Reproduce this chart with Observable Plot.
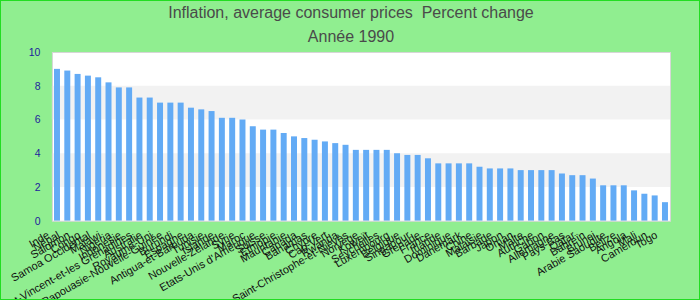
<!DOCTYPE html>
<html>
<head>
<meta charset="utf-8">
<script src="https://cdn.jsdelivr.net/npm/d3@7"></script>
<script src="https://cdn.jsdelivr.net/npm/@observablehq/plot@0.6"></script>
<style>
  html, body { margin: 0; padding: 0; }
  #chart {
    width: 700px; height: 300px; box-sizing: border-box;
    background: #90ee90; border: 1px solid #22dd22; overflow: hidden;
    font-family: "Liberation Sans", Arial, sans-serif; position: relative;
  }
  .title { position: absolute; left: 0; width: 700px; text-align: center; color: #4a4a4a; font-size: 16px; line-height: 16px; }
  #t1 { top: 4px; }
  #t2 { top: 28px; }
  #plot { position: absolute; left: -1px; top: 45px; }
</style>
</head>
<body>
<div id="chart">
  <div class="title" id="t1">Inflation, average consumer prices&nbsp; Percent change</div>
  <div class="title" id="t2">Année 1990</div>
  <div id="plot"></div>
</div>
<script>
const countries = [
  "Inde","Népal","Salomon","Congo","Samoa Occidental","Malawi","Nigeria","Indonésie",
  "Saint-Vincent-et-les Grenadines","Australie","Royaume-Uni","Papouasie-Nouvelle-Guinée",
  "Burundi","Espagne","Antigua-et-Barbuda","Tunisie","Islande","Nouvelle-Zélande","Syrie","Maroc",
  "Etats-Unis d'Amérique","Suisse","Ethiopie","Mauritanie","Canada","Bahamas",
  "Chypre","Cap-Vert","Rwanda","Saint-Christophe-et-Niévès","Norvège","Koweït","Seychelles",
  "Luxembourg","Belgique","Singapour","Grenade","France","Irlande","Dominique","Danemark",
  "Chine","Malaisie","Barbade","Japon","Oman","Malte","Autriche","Gabon","Allemagne",
  "Pays-Bas","Qatar","Bahreïn","Brunei","Arabie Saoudite","Belize","Angola","Mali",
  "Cameroun","Togo"
];
const values = [
  9.0, 8.9, 8.7, 8.6, 8.5, 8.2, 7.9, 7.9,
  7.3, 7.3, 7.0, 7.0,
  7.0, 6.7, 6.6, 6.5, 6.1, 6.1, 6.0,
  5.6, 5.4, 5.4, 5.2, 5.0, 4.9, 4.8,
  4.7, 4.6, 4.5, 4.2, 4.2, 4.2, 4.2,
  4.0, 3.9, 3.9, 3.7, 3.4, 3.4, 3.4, 3.4,
  3.2, 3.1, 3.1, 3.1, 3.0, 3.0, 3.0, 3.0, 2.8,
  2.7, 2.7, 2.5, 2.1, 2.1, 2.1, 1.8, 1.6,
  1.5, 1.1
];
const yTicks = [0, 2, 4, 6, 8, 10];
const bandLow = [2, 6];
const bandHigh = [4, 8];

const data = countries.map((c, i) => ({country: c, value: values[i]}));
const bands = bandLow.map((lo, i) => ({lo, hi: bandHigh[i]}));

const chart = Plot.plot({
  width: 700,
  height: 255,
  marginTop: 6,
  marginBottom: 80,
  marginLeft: 52,
  marginRight: 29,
  style: {background: "transparent", fontFamily: "Liberation Sans, Arial, sans-serif", fontSize: "10px", overflow: "visible"},
  x: {domain: countries, paddingInner: 0.42, paddingOuter: 0.2, round: false, label: null},
  y: {domain: [0, 10], label: null},
  marks: [
    Plot.frame({fill: "white", stroke: null}),
    Plot.barY(bands, {y1: "lo", y2: "hi", fill: "#f2f2f2"}),
    Plot.barY(data, {x: "country", y: "value", fill: "#63abf5"}),
    Plot.frame({stroke: "#d6d6d6", strokeWidth: 1}),
    Plot.axisY({ticks: yTicks, tickSize: 0, tickPadding: 12, fill: "#1c1c9c", fontSize: 10.5}),
    Plot.axisX({tickSize: 0, tickPadding: 10, dx: -9, dy: 3, tickRotate: -30, fill: "#111", fontSize: 11, label: null})
  ]
});
document.getElementById("plot").appendChild(chart);
</script>
</body>
</html>
